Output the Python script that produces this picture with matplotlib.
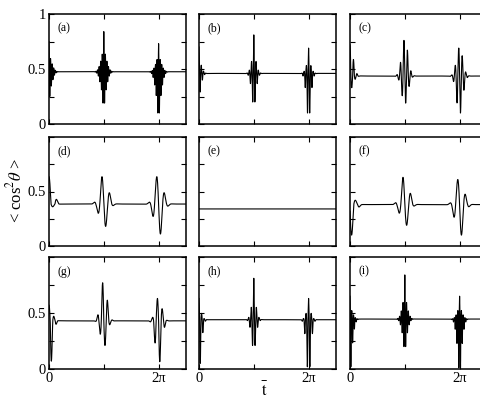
import numpy as np
import matplotlib
matplotlib.use("Agg")
import matplotlib.pyplot as plt

plt.rcParams.update({
    "font.family": ["Liberation Serif", "DejaVu Serif"],
    "mathtext.fontset": "stix",
    "font.size": 10.5,
    "axes.linewidth": 1.1,
    "xtick.direction": "in", "ytick.direction": "in",
    "xtick.top": True, "ytick.right": True,
    "xtick.major.size": 3.5, "ytick.major.size": 3.5,
})

# panel tags, row by row
labels = ["(a)", "(b)", "(c)", "(d)", "(e)", "(f)", "(g)", "(h)", "(i)"]
# revival times (in units of t-bar)
centers = [0.0, np.pi, 2 * np.pi]
# baseline of <cos^2 theta> between revivals
base = [0.475, 0.46, 0.436, 0.385, 0.34, 0.38, 0.43, 0.44, 0.446]
# highest / lowest excursion at t=0, pi, 2pi
hi = [[0.75, 0.84, 0.73], [0.70, 0.81, 0.69], [0.72, 0.76, 0.69],
      [0.636, 0.636, 0.636], [0.34, 0.34, 0.34], [0.42, 0.63, 0.61],
      [0.57, 0.77, 0.63], [0.63, 0.81, 0.63], [0.65, 0.84, 0.65]]
lo = [[0.25, 0.19, 0.10], [0.29, 0.20, 0.10], [0.33, 0.19, 0.10],
      [0.36, 0.18, 0.11], [0.34, 0.34, 0.34], [0.10, 0.19, 0.10],
      [0.07, 0.21, 0.065], [0.05, 0.21, 0.02], [0.02, 0.20, 0.01]]
# carrier frequency, packet width, share of the sharp central spike, phase
carrier = [70, 48, 31, 13.7, 13.7, 13.7, 22, 42, 62]
width = [0.24, 0.2, 0.25, 0.33, 0.33, 0.33, 0.25, 0.2, 0.22]
spike = [0.55, 0.55, 0.0, 0.0, 0.0, 0.0, 0.0, 0.5, 0.58]
phase0 = [0.0, 0.0, 0.0, 0.0, 0.0, 1.77, 0.0, 0.0, 0.0]
phase = [0.0, 0.0, np.pi / 2, np.pi / 2, 0.0, np.pi / 2, np.pi / 2, 0.0, 0.0]

t = np.linspace(0, 2.5 * np.pi, 8000)


def signal(i):
    y = np.full_like(t, base[i])
    for j, c in enumerate(centers):
        p = phase0[i] if j == 0 else phase[i]
        x = t - c
        env = (1 - spike[i]) * np.exp(-(x / width[i]) ** 2) + spike[i] * np.exp(-np.abs(x) / 0.035)
        s = env * np.cos(carrier[i] * x + p)
        up = np.clip(s, 0, None) / max(s.max(), 1e-9)
        dn = np.clip(s, None, 0) / max(-s.min(), 1e-9)
        y += up * (hi[i][j] - base[i]) + dn * (base[i] - lo[i][j])
    return y


fig = plt.figure(figsize=(4.8, 4.05), dpi=100)
W, H = 480, 405
lefts = [49, 199, 350]
tops = [14, 137, 257]
heights = [110, 109, 112]

for i in range(9):
    r, c = divmod(i, 3)
    ax = fig.add_axes([lefts[c] / W, 1 - (tops[r] + heights[r]) / H, 137 / W, heights[r] / H])
    ax.plot(t, signal(i), color="black", lw=0.8)
    ax.set_xlim(0, 2.5 * np.pi)
    ax.set_ylim(0, 1)
    ax.set_xticks([0, np.pi, 2 * np.pi])
    ax.set_yticks([0, 0.25, 0.5, 0.75, 1])
    ax.set_xticklabels(["0", "", "2π"] if r == 2 else [])
    if c == 0:
        ax.set_yticklabels(["0", "", "0.5", "", "1" if r == 0 else ""])
    else:
        ax.set_yticklabels([])
    ax.tick_params(pad=2)
    ax.text(0.06, 0.87, labels[i], transform=ax.transAxes, fontsize=8.5, va="center")

fig.text(15 / W, 1 - 190 / H, "< cos$^2\\theta$ >", rotation=90, ha="center", va="center", fontsize=12)
fig.text(265 / W, 1 - 391 / H, r"$\bar{\mathrm{t}}$", ha="center", va="center", fontsize=12)

fig.savefig("out.png", dpi=100)
